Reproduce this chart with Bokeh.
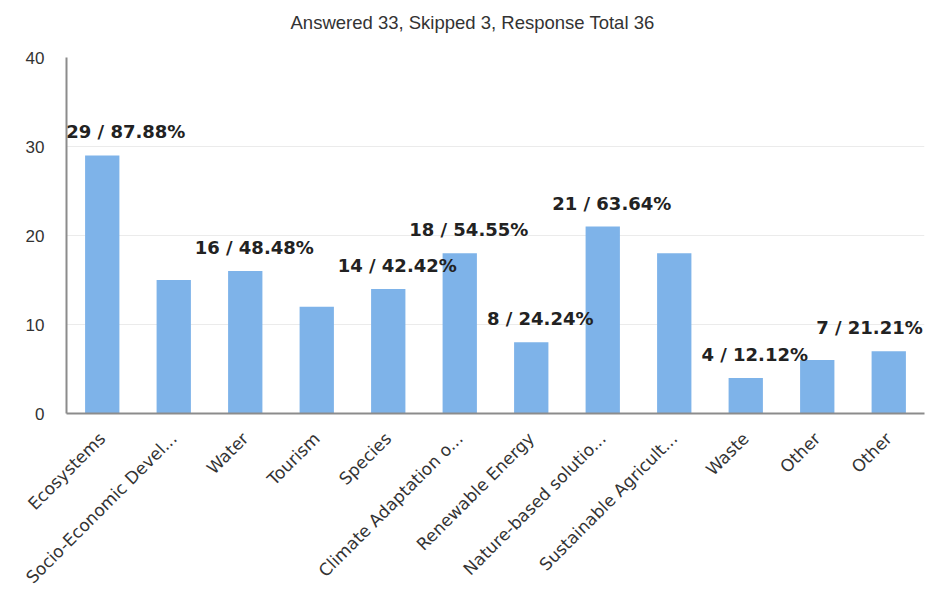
import math
from bokeh.plotting import figure
from bokeh.models import ColumnDataSource, LabelSet, FixedTicker, Range1d
from bokeh.core.properties import value
from bokeh.embed import file_html
from bokeh.resources import INLINE

# ---- data ----
categories = ["Ecosystems", "Socio-Economic Devel...", "Water", "Tourism", "Species",
              "Climate Adaptation o...", "Renewable Energy", "Nature-based solutio...",
              "Sustainable Agricult...", "Waste", "Other", "Other"]
counts = [29, 15, 16, 12, 14, 18, 8, 21, 18, 4, 6, 7]
answered = 33
skipped = 3
labelled = [True, False, True, False, True, True, True, True, False, True, False, True]
y_ticks = [0, 10, 20, 30, 40]

x = list(range(len(categories)))
src = ColumnDataSource(dict(x=x, top=counts))

title_text = f"Answered {answered}, Skipped {skipped}, Response Total {answered + skipped}"

p = figure(width=942, height=603, output_backend="svg", toolbar_location=None,
           x_range=Range1d(-0.5, len(categories) - 0.5), y_range=Range1d(0, 40),
           min_border_left=66, min_border_right=18, min_border_top=57, min_border_bottom=190,
           title=title_text + "\n")
p.outline_line_color = None
p.background_fill_color = "white"

p.title.text_font = "Liberation Sans"
p.title.text_font_size = "18.5px"
p.title.text_font_style = "normal"
p.title.text_color = "#333333"
p.title.align = "left"
p.title.offset = 224
p.title.standoff = 8

p.vbar(x="x", top="top", width=0.48, source=src, fill_color="#7EB3E9", line_color=None)

# axes
p.yaxis.ticker = FixedTicker(ticks=y_ticks)
p.yaxis.major_label_text_font = "Liberation Sans"
p.yaxis.major_label_text_font_size = "17px"
p.yaxis.major_label_text_color = "#333333"
p.yaxis.major_tick_out = 0
p.yaxis.major_tick_in = 0
p.yaxis.minor_tick_out = 0
p.yaxis.minor_tick_in = 0
p.yaxis.major_label_standoff = 22
p.yaxis.axis_line_color = "#8c8c8c"
p.yaxis.axis_line_width = 2

p.xaxis.ticker = FixedTicker(ticks=x)
p.xaxis.major_label_overrides = {i: c for i, c in zip(x, categories)}
p.xaxis.major_label_orientation = math.pi / 4
p.xaxis.major_label_text_font = "DejaVu Sans"
p.xaxis.major_label_text_font_size = "17px"
p.xaxis.major_label_text_color = "#333333"
p.xaxis.major_tick_out = 0
p.xaxis.major_tick_in = 0
p.xaxis.minor_tick_out = 0
p.xaxis.minor_tick_in = 0
p.xaxis.major_label_standoff = 22
p.xaxis.axis_line_color = "#8c8c8c"
p.xaxis.axis_line_width = 2

p.xgrid.visible = False
p.ygrid.ticker = FixedTicker(ticks=y_ticks)
p.ygrid.grid_line_color = "#ebebeb"

# value labels
idx = [i for i in x if labelled[i]]
first, last = idx[0], idx[-1]
lab_text = [f"{counts[i]} / {counts[i] / answered * 100:.2f}%" for i in idx]
lab_align = ["left" if i == first else "right" if i == last else "center" for i in idx]
lab_dx = [-36 if i == first else 34 if i == last else 9 for i in idx]
lsrc = ColumnDataSource(dict(x=idx, y=[counts[i] for i in idx], text=lab_text,
                             align=lab_align, dx=lab_dx))
labels = LabelSet(x="x", y="y", text="text", source=lsrc, x_offset="dx", y_offset=17,
                  text_align="align", text_baseline="alphabetic",
                  text_font=value("DejaVu Sans"), text_font_style="bold",
                  text_font_size="18px", text_color="#222222")
p.add_layout(labels)

open("out.html", "w").write(file_html(p, INLINE))
